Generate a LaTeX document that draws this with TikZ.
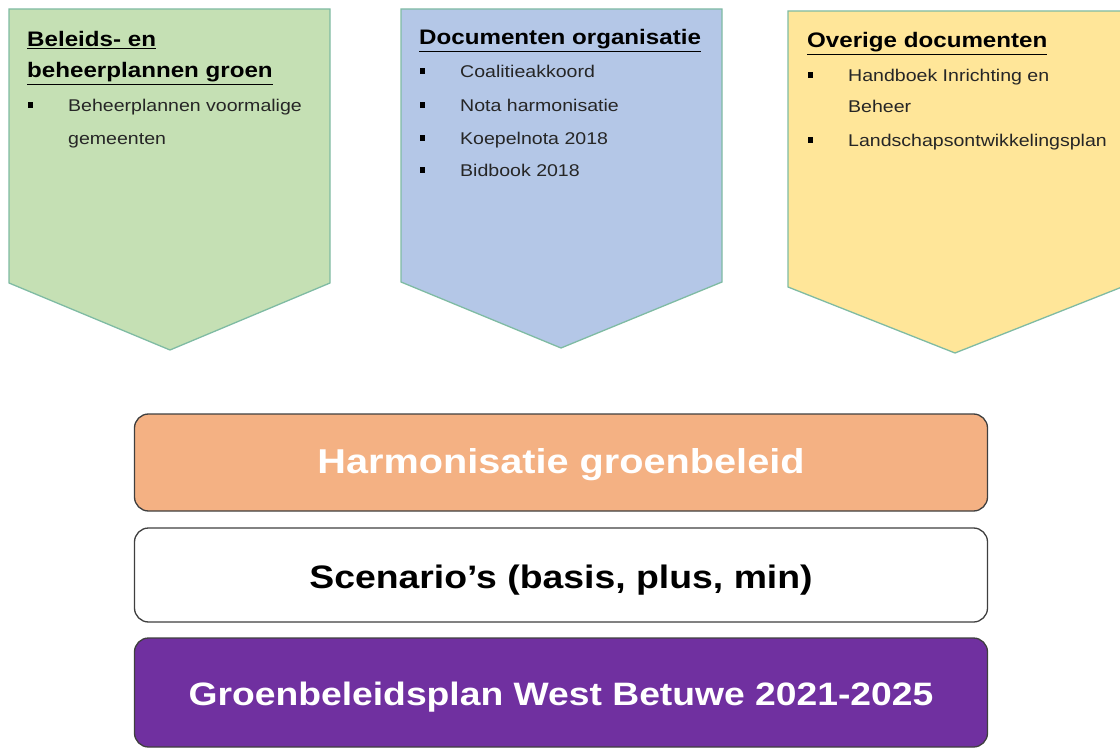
\documentclass[tikz,border=0pt]{standalone}
\usepackage{fontspec}
\setmainfont{Liberation Sans}[FakeStretch=1.15]
\definecolor{gfill}{HTML}{C5E0B4}
\definecolor{bfill}{HTML}{B4C7E7}
\definecolor{yfill}{HTML}{FFE699}
\definecolor{edgec}{HTML}{7FBBA3}
\definecolor{boxedge}{HTML}{3F3F3F}
\definecolor{ofill}{HTML}{F4B183}
\definecolor{pfill}{HTML}{7030A0}
\tikzset{
  pent/.style={draw=edgec, line width=1.3pt, line join=miter},
  head/.style={anchor=base west, inner sep=0pt, font=\fontsize{21}{31}\selectfont\bfseries},
  itemtxt/.style={anchor=base west, inner sep=0pt, font=\fontsize{17}{33}\selectfont, text=black!85},
  bul/.style={anchor=south west, inner sep=0pt, fill=black, minimum width=5pt, minimum height=6pt},
  bar/.style={draw=boxedge, line width=1.3pt, rounded corners=14pt, minimum width=853pt, inner sep=0pt},
  bartxt/.style={anchor=base, inner sep=0pt, font=\fontsize{#1}{40}\selectfont\bfseries}
}
\begin{document}
\begin{tikzpicture}[x=1pt,y=-1pt]
\useasboundingbox (0,0) rectangle (1120,749);
% pentagons
\draw[pent, fill=gfill] (9,9) -- (330,9) -- (330,283) -- (170,350) -- (9,283) -- cycle;
\draw[pent, fill=bfill] (401,9) -- (722,9) -- (722,282) -- (561,348) -- (401,282) -- cycle;
\draw[pent, fill=yfill] (788,11) -- (1122,11) -- (1122,287) -- (955,353) -- (788,287) -- cycle;
% left texts
\node[head] (h1a) at (27,47) {\underline{Beleids- en}};
\node[head] (h1b) at (27,78) {\underline{beheerplannen groen}};
\node[bul] (b1a) at (28,108) {};
\node[itemtxt] (t1a) at (68,112) {Beheerplannen voormalige};
\node[itemtxt] (t1b) at (68,145) {gemeenten};
% middle texts
\node[head] (h2) at (419,45) {\underline{Documenten organisatie}};
\node[bul] (b2a) at (420,74) {};
\node[itemtxt] (t2a) at (460,78) {Coalitieakkoord};
\node[bul] (b2b) at (420,108) {};
\node[itemtxt] (t2b) at (460,112) {Nota harmonisatie};
\node[bul] (b2c) at (420,141) {};
\node[itemtxt] (t2c) at (460,145) {Koepelnota 2018};
\node[bul] (b2d) at (420,173) {};
\node[itemtxt] (t2d) at (460,177) {Bidbook 2018};
% right texts
\node[head] (h3) at (807,48) {\underline{Overige documenten}};
\node[bul] (b3a) at (808,78) {};
\node[itemtxt] (t3a) at (848,82) {Handboek Inrichting en};
\node[itemtxt] (t3b) at (848,113) {Beheer};
\node[bul] (b3c) at (808,143) {};
\node[itemtxt] (t3c) at (848,147) {Landschapsontwikkelingsplan};
% bars
\node[bar, fill=ofill, minimum height=97pt] (harm) at (561,462.5) {};
\node[bartxt=34.5, text=white] (harmt) at (561,473) {Harmonisatie groenbeleid};
\node[bar, fill=white, minimum height=94pt] (scen) at (561,575) {};
\node[bartxt=32.5, text=black] (scent) at (561,588) {Scenario’s (basis, plus, min)};
\node[bar, fill=pfill, minimum height=109pt] (gbp) at (561,692.5) {};
\node[bartxt=32.4, text=white] (gbpt) at (561,705) {Groenbeleidsplan West Betuwe 2021-2025};
\end{tikzpicture}
\end{document}
